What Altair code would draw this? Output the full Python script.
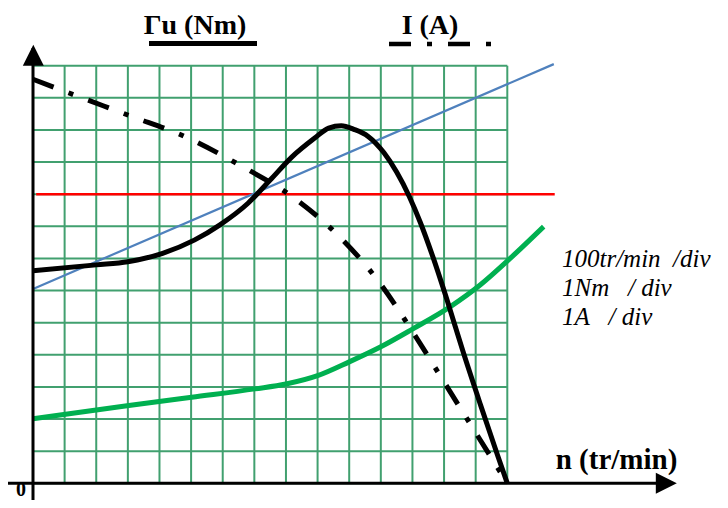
import altair as alt
import pandas as pd

# ---------------- data (in grid divisions) ----------------
# torque curve Γu : 1 Nm/div, speed 100 tr/min per div
torque_n = [0, 2.0, 3.0, 4.1, 5.1, 5.9, 6.8, 7.5, 8.2, 8.9, 9.35, 9.75, 10.15, 10.6, 11.1, 11.5, 11.9, 12.25, 12.65, 13.1, 13.6, 14.15, 14.7, 15.0]
torque_v = [6.62, 6.80, 6.90, 7.16, 7.57, 8.04, 8.72, 9.44, 10.17, 10.74, 11.06, 11.13, 11.02, 10.8, 10.29, 9.69, 8.93, 8.12, 7.04, 5.69, 4.1, 2.45, 0.85, 0.0]

# current curve I (dash-dot)
current_n = [0, 1.28, 3.07, 4.86, 6.55, 8.22, 9.69, 10.95, 12.03, 13.04, 14.06, 15.0]
current_v = [12.58, 12.1, 11.44, 10.77, 9.9, 8.91, 7.68, 6.26, 4.68, 3.09, 1.48, 0.0]

# green curve
green_n = [0, 3.03, 5.02, 7.02, 8.0, 9.0, 10.0, 11.0, 12.0, 13.2, 14.15, 15.09, 16.15]
green_v = [2.01, 2.42, 2.68, 2.94, 3.09, 3.35, 3.78, 4.25, 4.8, 5.5, 6.18, 7.0, 7.99]

# blue straight line (load torque)
blue_n = [0, 16.47]
blue_v = [6.05, 13.05]

# red horizontal line
red_n = [0.1, 16.5]
red_v = [9.0, 9.0]

# grid extent (divisions)
grid_cols = list(range(0, 16))
grid_rows = list(range(0, 14))

# texts
NB = "\u00a0"
title_torque = ["Γu (Nm)"]
title_current = ["I (A)"]
title_speed = ["n (tr/min)"]
origin_label = ["0"]
scale_notes = ["100tr/min" + NB * 2 + "/div", "1Nm" + NB * 3 + "/ div", "1A" + NB * 3 + "/ div"]

# ---------------- layout ----------------
W, H = 712, 492
X0, PX = 25.0, 31.62     # chart px of n=0, px per division
Y0, PY = 475.3, 32.12    # chart px of value=0, px per division

xscale = alt.Scale(domain=[-X0 / PX, (W - X0) / PX], nice=False, zero=False)
yscale = alt.Scale(domain=[-(H - Y0) / PY, Y0 / PY], nice=False, zero=False)

GRID = "#41a06f"
SERIF = "Liberation Serif"


def xy():
    return dict(
        x=alt.X("x:Q", scale=xscale, axis=None),
        y=alt.Y("y:Q", scale=yscale, axis=None),
    )


# grid
grid_df = pd.DataFrame(
    [{"x": c, "x2": c, "y": 0, "y2": grid_rows[-1]} for c in grid_cols]
    + [{"x": 0, "x2": grid_cols[-1], "y": r, "y2": r} for r in grid_rows]
)
grid = alt.Chart(grid_df).mark_rule(color=GRID, strokeWidth=2).encode(
    x=alt.X("x:Q", scale=xscale, axis=None),
    x2="x2:Q",
    y=alt.Y("y:Q", scale=yscale, axis=None),
    y2="y2:Q",
)

red = alt.Chart(pd.DataFrame({"x": red_n, "y": red_v})).mark_line(
    color="#ff0000", strokeWidth=2.5).encode(**xy())
blue = alt.Chart(pd.DataFrame({"x": blue_n, "y": blue_v})).mark_line(
    color="#4f81bd", strokeWidth=2.2).encode(**xy())
green = alt.Chart(pd.DataFrame({"x": green_n, "y": green_v})).mark_line(
    color="#00b050", strokeWidth=5, interpolate="monotone").encode(**xy())
current = alt.Chart(pd.DataFrame({"x": current_n, "y": current_v})).mark_line(
    color="black", strokeWidth=5, interpolate="monotone",
    strokeDash=[22, 16, 5, 16]).encode(**xy())
torque = alt.Chart(pd.DataFrame({"x": torque_n, "y": torque_v})).mark_line(
    color="black", strokeWidth=5, interpolate="monotone").encode(**xy())

one = pd.DataFrame({"a": [0]})

# axes with arrows
y_axis = alt.Chart(one).mark_rule(color="black", strokeWidth=3).encode(
    x=alt.value(X0), y=alt.value(40), y2=alt.value(H))
x_axis = alt.Chart(one).mark_rule(color="black", strokeWidth=3).encode(
    x=alt.value(0), x2=alt.value(652), y=alt.value(Y0))
arrow_up = alt.Chart(one).mark_point(
    shape="M0,-1L1,1L-1,1Z", size=441, filled=True, color="black", opacity=1,
    strokeWidth=0).encode(x=alt.value(X0 + 0.3), y=alt.value(47.3))
arrow_right = alt.Chart(one).mark_point(
    shape="M1,0L-1,-1L-1,1Z", size=441, filled=True, color="black", opacity=1,
    strokeWidth=0).encode(x=alt.value(658.3), y=alt.value(Y0))


def label(txt, x, y, size=28, bold=True, italic=False, align="center"):
    kw = dict(text=txt, font=SERIF, fontSize=size, align=align,
              baseline="alphabetic", color="black")
    if bold:
        kw["fontWeight"] = "bold"
    if italic:
        kw["fontStyle"] = "italic"
    return alt.Chart(one).mark_text(**kw).encode(x=alt.value(x), y=alt.value(y))


t_torque = label(title_torque[0], 187, 25.5)
u_torque = alt.Chart(one).mark_rule(color="black", strokeWidth=5).encode(
    x=alt.value(141), x2=alt.value(249), y=alt.value(35.5))
t_current = label(title_current[0], 422, 25.5)
u_current = alt.Chart(one).mark_rule(
    color="black", strokeWidth=4.5, strokeDash=[22, 16, 5, 16]).encode(
    x=alt.value(381), x2=alt.value(483), y=alt.value(36))
t_speed = label(title_speed[0], 608.5, 461, size=29)
t_origin = label(origin_label[0], 13, 488, size=20)

notes = [label(s, 554, y, size=25, bold=False, italic=True, align="left")
         for s, y in zip(scale_notes, [259.3, 288, 317])]

chart = alt.layer(
    grid, red, blue, green, current, torque,
    y_axis, x_axis, arrow_up, arrow_right,
    t_torque, u_torque, t_current, u_current, t_speed, t_origin, *notes,
).properties(
    width=W, height=H, padding=0, autosize=alt.AutoSizeParams(type="none"),
).configure_view(stroke=None)

chart.save("out.html", embed_options={"renderer": "svg", "actions": False})
